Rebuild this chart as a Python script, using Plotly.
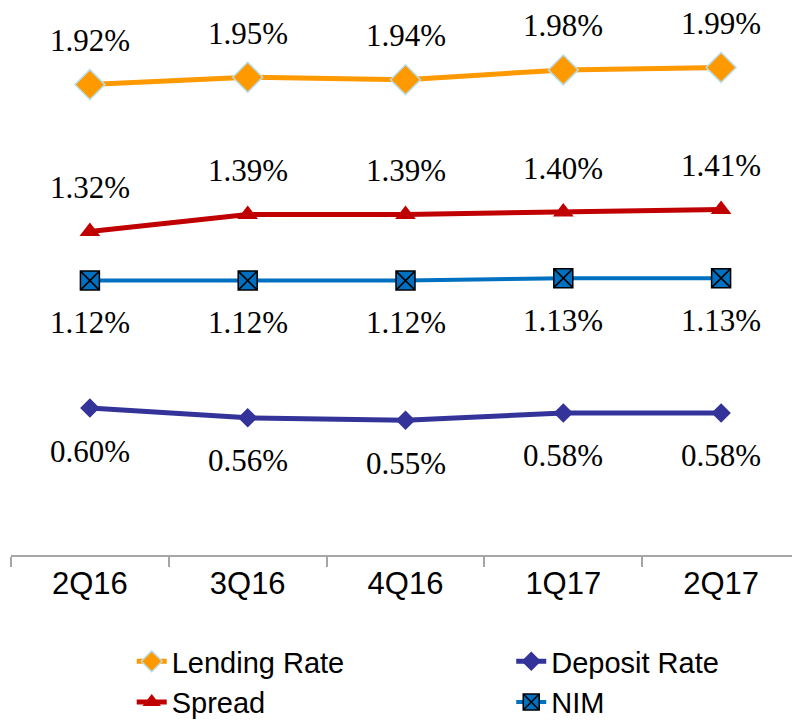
import plotly.graph_objects as go

quarters = ["2Q16", "3Q16", "4Q16", "1Q17", "2Q17"]
lending_rate = [1.92, 1.95, 1.94, 1.98, 1.99]
deposit_rate = [0.60, 0.56, 0.55, 0.58, 0.58]
spread = [1.32, 1.39, 1.39, 1.40, 1.41]
nim = [1.12, 1.12, 1.12, 1.13, 1.13]

fig = go.Figure()

fig.add_trace(go.Scatter(
    x=quarters, y=lending_rate, name="Lending Rate", mode="lines+markers",
    line=dict(color="#FF9900", width=5), legend="legend",
    marker=dict(symbol="diamond", size=23, color="#FF9900",
                line=dict(color="#B7DDE8", width=1.5)),
))
fig.add_trace(go.Scatter(
    x=quarters, y=spread, name="Spread", mode="lines+markers",
    line=dict(color="#C00000", width=5), legend="legend",
    marker=dict(symbol="triangle-up", size=18, color="#C00000"),
))
fig.add_trace(go.Scatter(
    x=quarters, y=deposit_rate, name="Deposit Rate", mode="lines+markers",
    line=dict(color="#333399", width=5), legend="legend2",
    marker=dict(symbol="diamond", size=15, color="#333399"),
))
fig.add_trace(go.Scatter(
    x=quarters, y=nim, name="NIM", mode="lines+markers",
    line=dict(color="#0070C0", width=4), legend="legend2",
    marker=dict(symbol="square-x", size=19, color="#0070C0",
                line=dict(color="#000000", width=1.5)),
))

annotations = []
for series, shift in [(lending_rate, 44), (spread, 44), (nim, -42), (deposit_rate, -43)]:
    for q, v in zip(quarters, series):
        annotations.append(dict(
            x=q, y=v, text=f"{v:.2f}%", showarrow=False, yshift=shift,
            font=dict(family="Liberation Serif", size=31, color="#000000"),
        ))

legend_common = dict(
    orientation="v", yanchor="top", y=-0.148, xanchor="left",
    font=dict(family="Liberation Sans", size=29, color="#000000"),
    tracegroupgap=0, bgcolor="rgba(0,0,0,0)",
)

fig.update_layout(
    width=792, height=714,
    margin=dict(l=3, r=0, t=0, b=167, autoexpand=False),
    plot_bgcolor="white", paper_bgcolor="white",
    showlegend=True,
    legend=dict(x=0.153, **legend_common),
    legend2=dict(x=0.634, **legend_common),
    annotations=annotations,
)
fig.update_xaxes(
    type="category", range=[-0.5, 4.5], showline=True, linecolor="#A6A6A6", linewidth=2,
    ticks="outside", tickson="boundaries", ticklen=10, tickcolor="#A6A6A6", tickwidth=2,
    tickfont=dict(family="Liberation Sans", size=31, color="#000000"),
    showgrid=False, zeroline=False, automargin=False,
)
fig.update_yaxes(range=[0, 547 / 245], visible=False, showgrid=False, zeroline=False,
                 automargin=False)

fig.write_html("out.html")
